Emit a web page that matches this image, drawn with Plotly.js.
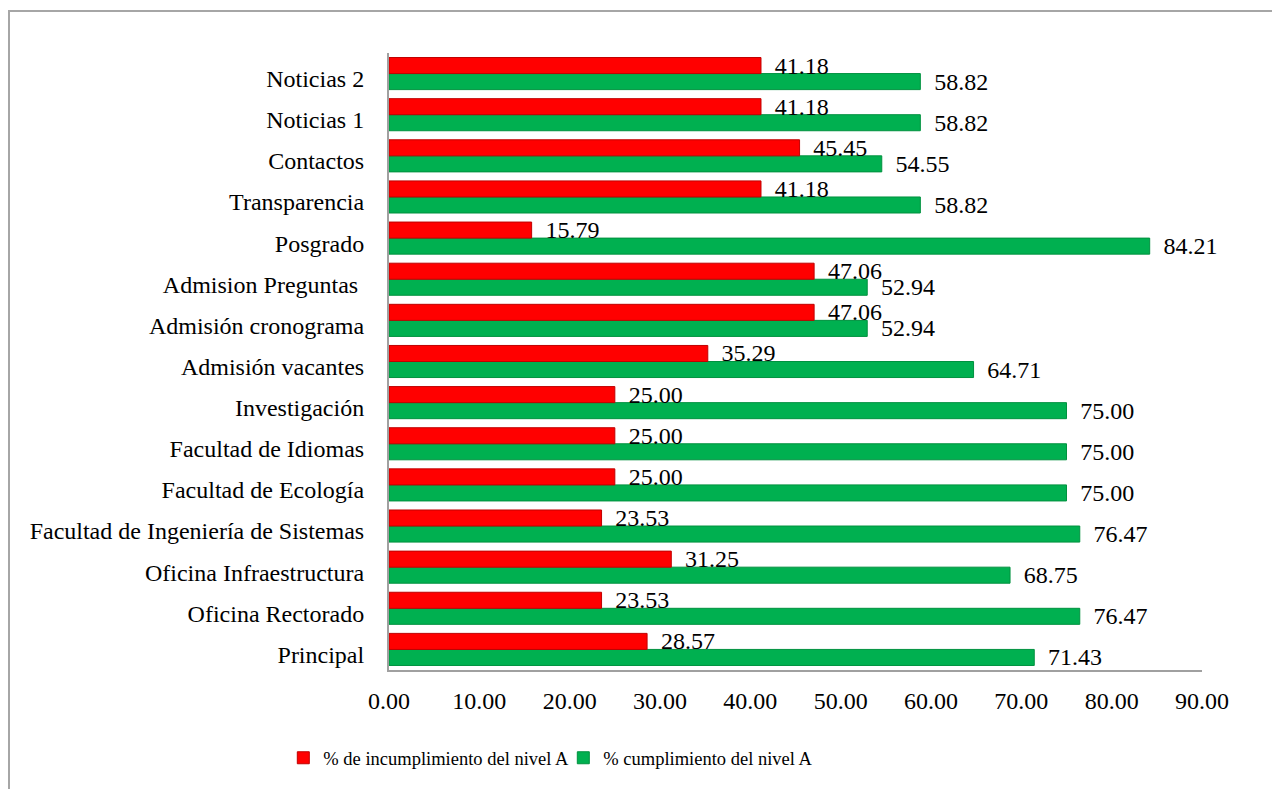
<!DOCTYPE html>
<html>
<head>
<meta charset="utf-8">
<script src="https://cdn.plot.ly/plotly-3.0.1.min.js"></script>
<style>
html,body{margin:0;padding:0;background:#fff;}
#wrap{position:relative;width:1272px;height:789px;overflow:hidden;}
#chart{position:absolute;left:0;top:0;width:1272px;height:789px;}
#frame{position:absolute;left:8px;top:10px;width:1400px;height:900px;border-top:2px solid #A6A6A6;border-left:2px solid #A6A6A6;pointer-events:none;}
</style>
</head>
<body>
<div id="wrap"><div id="chart"></div><div id="frame"></div></div>
<script>
const categories = [
  "Principal",
  "Oficina Rectorado",
  "Oficina Infraestructura",
  "Facultad de Ingeniería de Sistemas",
  "Facultad de Ecología",
  "Facultad de Idiomas",
  "Investigación",
  "Admisión vacantes",
  "Admisión cronograma",
  "Admision Preguntas ",
  "Posgrado",
  "Transparencia",
  "Contactos",
  "Noticias 1",
  "Noticias 2"
];
const incumplimiento = [28.57, 23.53, 31.25, 23.53, 25.00, 25.00, 25.00, 35.29, 47.06, 47.06, 15.79, 41.18, 45.45, 41.18, 41.18];
const cumplimiento = [71.43, 76.47, 68.75, 76.47, 75.00, 75.00, 75.00, 64.71, 52.94, 52.94, 84.21, 58.82, 54.55, 58.82, 58.82];
const xTicks = [0, 10, 20, 30, 40, 50, 60, 70, 80, 90];

const FONT = "Liberation Serif";
const labelFont = {family: FONT, size: 24, color: "#000"};

const traceGreen = {
  type: "bar", orientation: "h",
  name: "% cumplimiento del nivel A",
  y: categories, x: cumplimiento,
  marker: {color: "#00B050", line: {color: "#00913F", width: 1}},
  text: cumplimiento.map(v => v.toFixed(2)),
  texttemplate: "\u00a0\u2009%{text}",
  textposition: "outside",
  constraintext: "none",
  cliponaxis: false,
  textfont: labelFont,
  outsidetextfont: labelFont,
  legendrank: 2,
  hoverinfo: "x+y"
};
const traceRed = {
  type: "bar", orientation: "h",
  name: "% de incumplimiento del nivel A",
  y: categories, x: incumplimiento,
  marker: {color: "#FF0000", line: {color: "#C00000", width: 1}},
  text: incumplimiento.map(v => v.toFixed(2)),
  texttemplate: "\u00a0\u2009%{text}",
  textposition: "outside",
  constraintext: "none",
  cliponaxis: false,
  textfont: labelFont,
  outsidetextfont: labelFont,
  legendrank: 1,
  hoverinfo: "x+y"
};

const layout = {
  width: 1272, height: 789,
  paper_bgcolor: "#fff", plot_bgcolor: "#fff",
  margin: {l: 389, r: 70, t: 53, b: 117},
  barmode: "group",
  bargap: 0.22,
  bargroupgap: 0,
  font: {family: FONT, size: 24, color: "#000"},
  showlegend: true,
  legend: {
    orientation: "h",
    x: -0.13, xanchor: "left",
    y: -0.143, yanchor: "middle",
    font: {family: FONT, size: 18.5, color: "#000"},
    traceorder: "normal",
    itemwidth: 30,
    entrywidth: 235
  },
  xaxis: {
    range: [0, 90],
    tickvals: xTicks,
    ticktext: xTicks.map(v => v.toFixed(2)),
    showgrid: false, zeroline: false,
    showline: true, linecolor: "#A0A0A0", linewidth: 2,
    ticks: "", ticklabelstandoff: 8,
    tickfont: labelFont,
    fixedrange: true
  },
  yaxis: {
    type: "category",
    categoryorder: "array", categoryarray: categories,
    showgrid: false, zeroline: false,
    showline: true, linecolor: "#A0A0A0", linewidth: 2,
    ticks: "", ticklabelstandoff: 18, ticklabelshift: 5,
    tickfont: labelFont,
    fixedrange: true
  }
};

Plotly.newPlot("chart", [traceGreen, traceRed], layout, {displayModeBar: false, staticPlot: true});
</script>
</body>
</html>
